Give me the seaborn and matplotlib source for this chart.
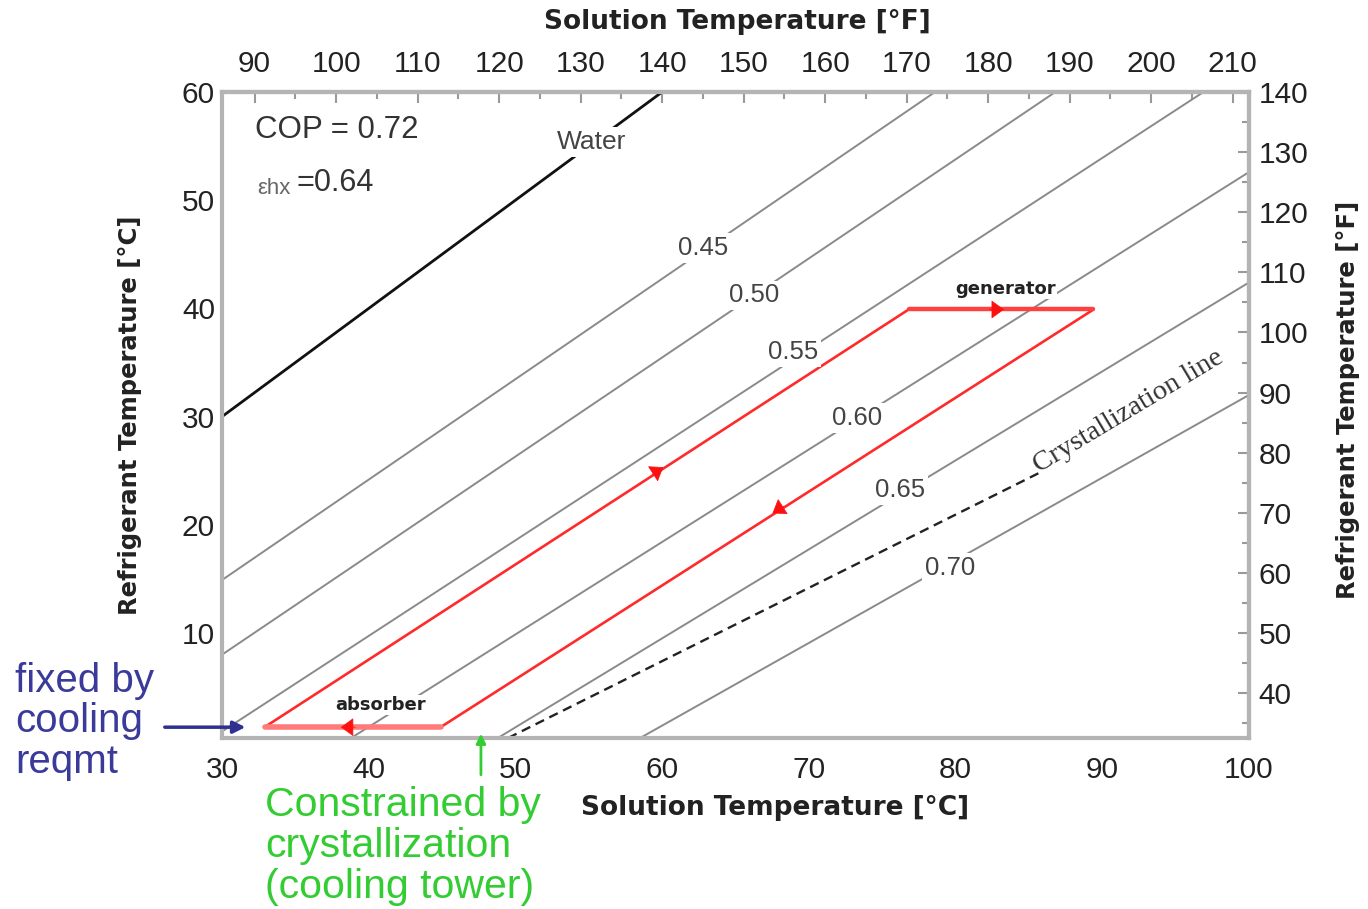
import numpy as np
import pandas as pd
import matplotlib
matplotlib.use("Agg")
import matplotlib.pyplot as plt
from matplotlib.ticker import MultipleLocator
import seaborn as sns

# LiBr mass-fraction lines: end points (solution °C, refrigerant °C)
conc_labels = ["0.45", "0.50", "0.55", "0.60", "0.65", "0.70"]
iso_sol_start = [30.0, 30.0, 30.0, 38.8, 48.8, 58.5]
iso_ref_start = [14.9, 8.0, 0.9, 0.3, 0.3, 0.3]
iso_sol_end = [78.6, 86.8, 96.9, 100.0, 100.0, 100.0]
iso_ref_end = [60.0, 60.0, 60.0, 52.6, 42.4, 32.0]
label_sol = [62.8, 66.3, 68.9, 73.3, 76.2, 79.6]
label_ref = [45.6, 41.2, 36.0, 29.9, 23.2, 16.0]

# pure water line
water_sol = [30.0, 60.0]
water_ref = [30.0, 60.0]

# crystallization limit
cryst_sol = [49.5, 85.7]
cryst_ref = [0.3, 24.8]

# absorption cycle corners (absorber left -> generator -> absorber right)
cycle_sol = [32.9, 76.8, 89.4, 44.9, 32.9]
cycle_ref = [1.3, 39.9, 39.9, 1.3, 1.3]
# flow-direction marks, one per cycle segment
arrow_sol = [59.7, 82.8, 67.9, 38.6]
arrow_ref = [25.0, 39.9, 21.4, 1.3]

x_ticks_c = [30, 40, 50, 60, 70, 80, 90, 100]
y_ticks_c = [10, 20, 30, 40, 50, 60]
x_ticks_f = list(range(90, 211, 10))
y_ticks_f = list(range(40, 141, 10))

sns.set_theme(style="white")
plt.rcParams["font.family"] = ["Liberation Sans", "DejaVu Sans"]

W, H = 1368, 909
fig = plt.figure(figsize=(W / 100, H / 100), dpi=100)


def fpx(x, y):
    return x / W, 1 - y / H


ax = fig.add_axes([222 / W, 1 - 738 / H, (1249 - 222) / W, (738 - 92) / H])
ax.set_xlim(30, 100)
ax.set_ylim(0.3, 60)

rows = []
for c, xs, ys, xe, ye in zip(conc_labels, iso_sol_start, iso_ref_start, iso_sol_end, iso_ref_end):
    rows.append({"conc": c, "T_sol": xs, "T_ref": ys})
    rows.append({"conc": c, "T_sol": xe, "T_ref": ye})
iso = pd.DataFrame(rows)
sns.lineplot(data=iso, x="T_sol", y="T_ref", units="conc", estimator=None, sort=False,
             color="#8a8a8a", lw=1.4, ax=ax, legend=False)

sns.lineplot(x=water_sol, y=water_ref, color="#111111", lw=2.0, ax=ax)
sns.lineplot(x=cryst_sol, y=cryst_ref, color="#222222", lw=1.7, ax=ax,
             linestyle=(0, (4, 2.5)))

# cycle: branches thin red, absorber/generator thicker
sns.lineplot(x=cycle_sol[0:2], y=cycle_ref[0:2], color="#ff2a2a", lw=1.9, ax=ax)
sns.lineplot(x=cycle_sol[2:4], y=cycle_ref[2:4], color="#ff2a2a", lw=1.9, ax=ax)
sns.lineplot(x=cycle_sol[1:3], y=cycle_ref[1:3], color="#ff4040", lw=3.2, ax=ax)
sns.lineplot(x=cycle_sol[3:5], y=cycle_ref[3:5], color="#ff7a7a", lw=4.0, ax=ax)

for i, (xa, ya) in enumerate(zip(arrow_sol, arrow_ref)):
    dx = cycle_sol[i + 1] - cycle_sol[i]
    dy = cycle_ref[i + 1] - cycle_ref[i]
    n = np.hypot(dx, dy)
    ux, uy = dx / n, dy / n
    ax.annotate("", xy=(xa + 0.5 * ux, ya + 0.5 * uy), xytext=(xa - 0.5 * ux, ya - 0.5 * uy),
                arrowprops=dict(arrowstyle="-|>,head_length=0.55,head_width=0.4",
                                color="#ff1010", lw=0.5, mutation_scale=15, shrinkA=0, shrinkB=0))

for lab, xl, yl in zip(conc_labels, label_sol, label_ref):
    ax.text(xl, yl, lab, ha="center", va="center", fontsize=18.5, color="#444444",
            bbox=dict(fc="white", ec="none", pad=2))

ax.text(55.2, 55.4, "Water", ha="center", va="center", fontsize=19, color="#444444",
        bbox=dict(fc="white", ec="none", pad=2))
ax.text(85.9, 24.3, "Crystallization line", ha="left", va="bottom", rotation=31,
        rotation_mode="anchor", fontsize=20.5, color="#333333",
        family=["Liberation Serif", "DejaVu Serif"])
ax.text(83.4, 41.8, "generator", ha="center", va="center", fontsize=13, color="#222222",
        fontweight="bold", family="DejaVu Sans", bbox=dict(fc="white", ec="none", pad=1))
ax.text(40.8, 3.35, "absorber", ha="center", va="center", fontsize=13, color="#222222",
        fontweight="bold", family="DejaVu Sans", bbox=dict(fc="white", ec="none", pad=1))

ax.text(32.25, 56.5, "COP = 0.72", ha="left", va="center", fontsize=22.5, color="#333333")
ax.text(32.4, 51.1, "εhx", ha="left", va="center", fontsize=16, color="#666666")
ax.text(35.1, 51.6, "=0.64", ha="left", va="center", fontsize=22, color="#333333")

# axes styling
spine_c = "#b4b4b4"
for s in ax.spines.values():
    s.set_color(spine_c)
    s.set_linewidth(3)
ax.set_xticks(x_ticks_c)
ax.set_yticks(y_ticks_c)
ax.xaxis.set_minor_locator(MultipleLocator(5))
ax.yaxis.set_minor_locator(MultipleLocator(5))
ax.tick_params(which="both", direction="in", color="#999999", width=1.5)
ax.tick_params(which="major", length=8)
ax.tick_params(which="minor", length=5)
ax.tick_params(axis="x", labelsize=21.5, labelcolor="#222222", pad=13)
ax.tick_params(axis="y", labelsize=21.5, labelcolor="#222222", pad=5)
ax.set_xlabel("")
ax.set_ylabel("")

c2f = lambda c: c * 1.8 + 32
f2c = lambda f: (f - 32) / 1.8
secx = ax.secondary_xaxis("top", functions=(c2f, f2c))
secx.set_xticks(x_ticks_f)
secx.xaxis.set_minor_locator(MultipleLocator(5))
secx.tick_params(which="both", direction="in", color="#999999", width=1.5)
secx.tick_params(which="major", length=8)
secx.tick_params(which="minor", length=5)
secx.tick_params(labelsize=21.5, labelcolor="#222222", pad=10)
secx.spines["top"].set_color(spine_c)
secx.spines["top"].set_linewidth(3)

secy = ax.secondary_yaxis("right", functions=(c2f, f2c))
secy.set_yticks(y_ticks_f)
secy.yaxis.set_minor_locator(MultipleLocator(5))
secy.tick_params(which="both", direction="in", color="#999999", width=1.5)
secy.tick_params(which="major", length=8)
secy.tick_params(which="minor", length=5)
secy.tick_params(labelsize=21.5, labelcolor="#222222", pad=7)
secy.spines["right"].set_color(spine_c)
secy.spines["right"].set_linewidth(3)

# axis titles
lab_kw = dict(family="DejaVu Sans", fontweight="bold", color="#222222")
fig.text(*fpx(737, 22), "Solution Temperature [°F]", ha="center", va="center", fontsize=19, **lab_kw)
fig.text(*fpx(775, 808), "Solution Temperature [°C]", ha="center", va="center", fontsize=19, **lab_kw)
fig.text(*fpx(130, 415), "Refrigerant Temperature [°C]", ha="center", va="center",
         rotation=90, fontsize=17.5, **lab_kw)
fig.text(*fpx(1348, 400), "Refrigerant Temperature [°F]", ha="center", va="center",
         rotation=90, fontsize=17.5, **lab_kw)

# design-constraint notes
ax.annotate("", xy=(31.6, 1.3), xytext=(26.1, 1.3), annotation_clip=False,
            arrowprops=dict(arrowstyle="-|>", color="#2e3192", lw=2.5, mutation_scale=18,
                            shrinkA=0, shrinkB=0))
fig.text(*fpx(15, 662), "fixed by\ncooling\nreqmt", ha="left", va="top", fontsize=29,
         color="#3a3a9a", linespacing=1.08)

ax.annotate("", xy=(47.65, 0.7), xytext=(47.65, -3.1), annotation_clip=False,
            arrowprops=dict(arrowstyle="-|>", color="#33cc33", lw=2, mutation_scale=14,
                            shrinkA=0, shrinkB=0))
fig.text(*fpx(265, 786), "Constrained by\ncrystallization\n(cooling tower)", ha="left", va="top",
         fontsize=29.5, color="#33cc33", linespacing=1.1)

fig.savefig("out.png", dpi=100, facecolor="white")
